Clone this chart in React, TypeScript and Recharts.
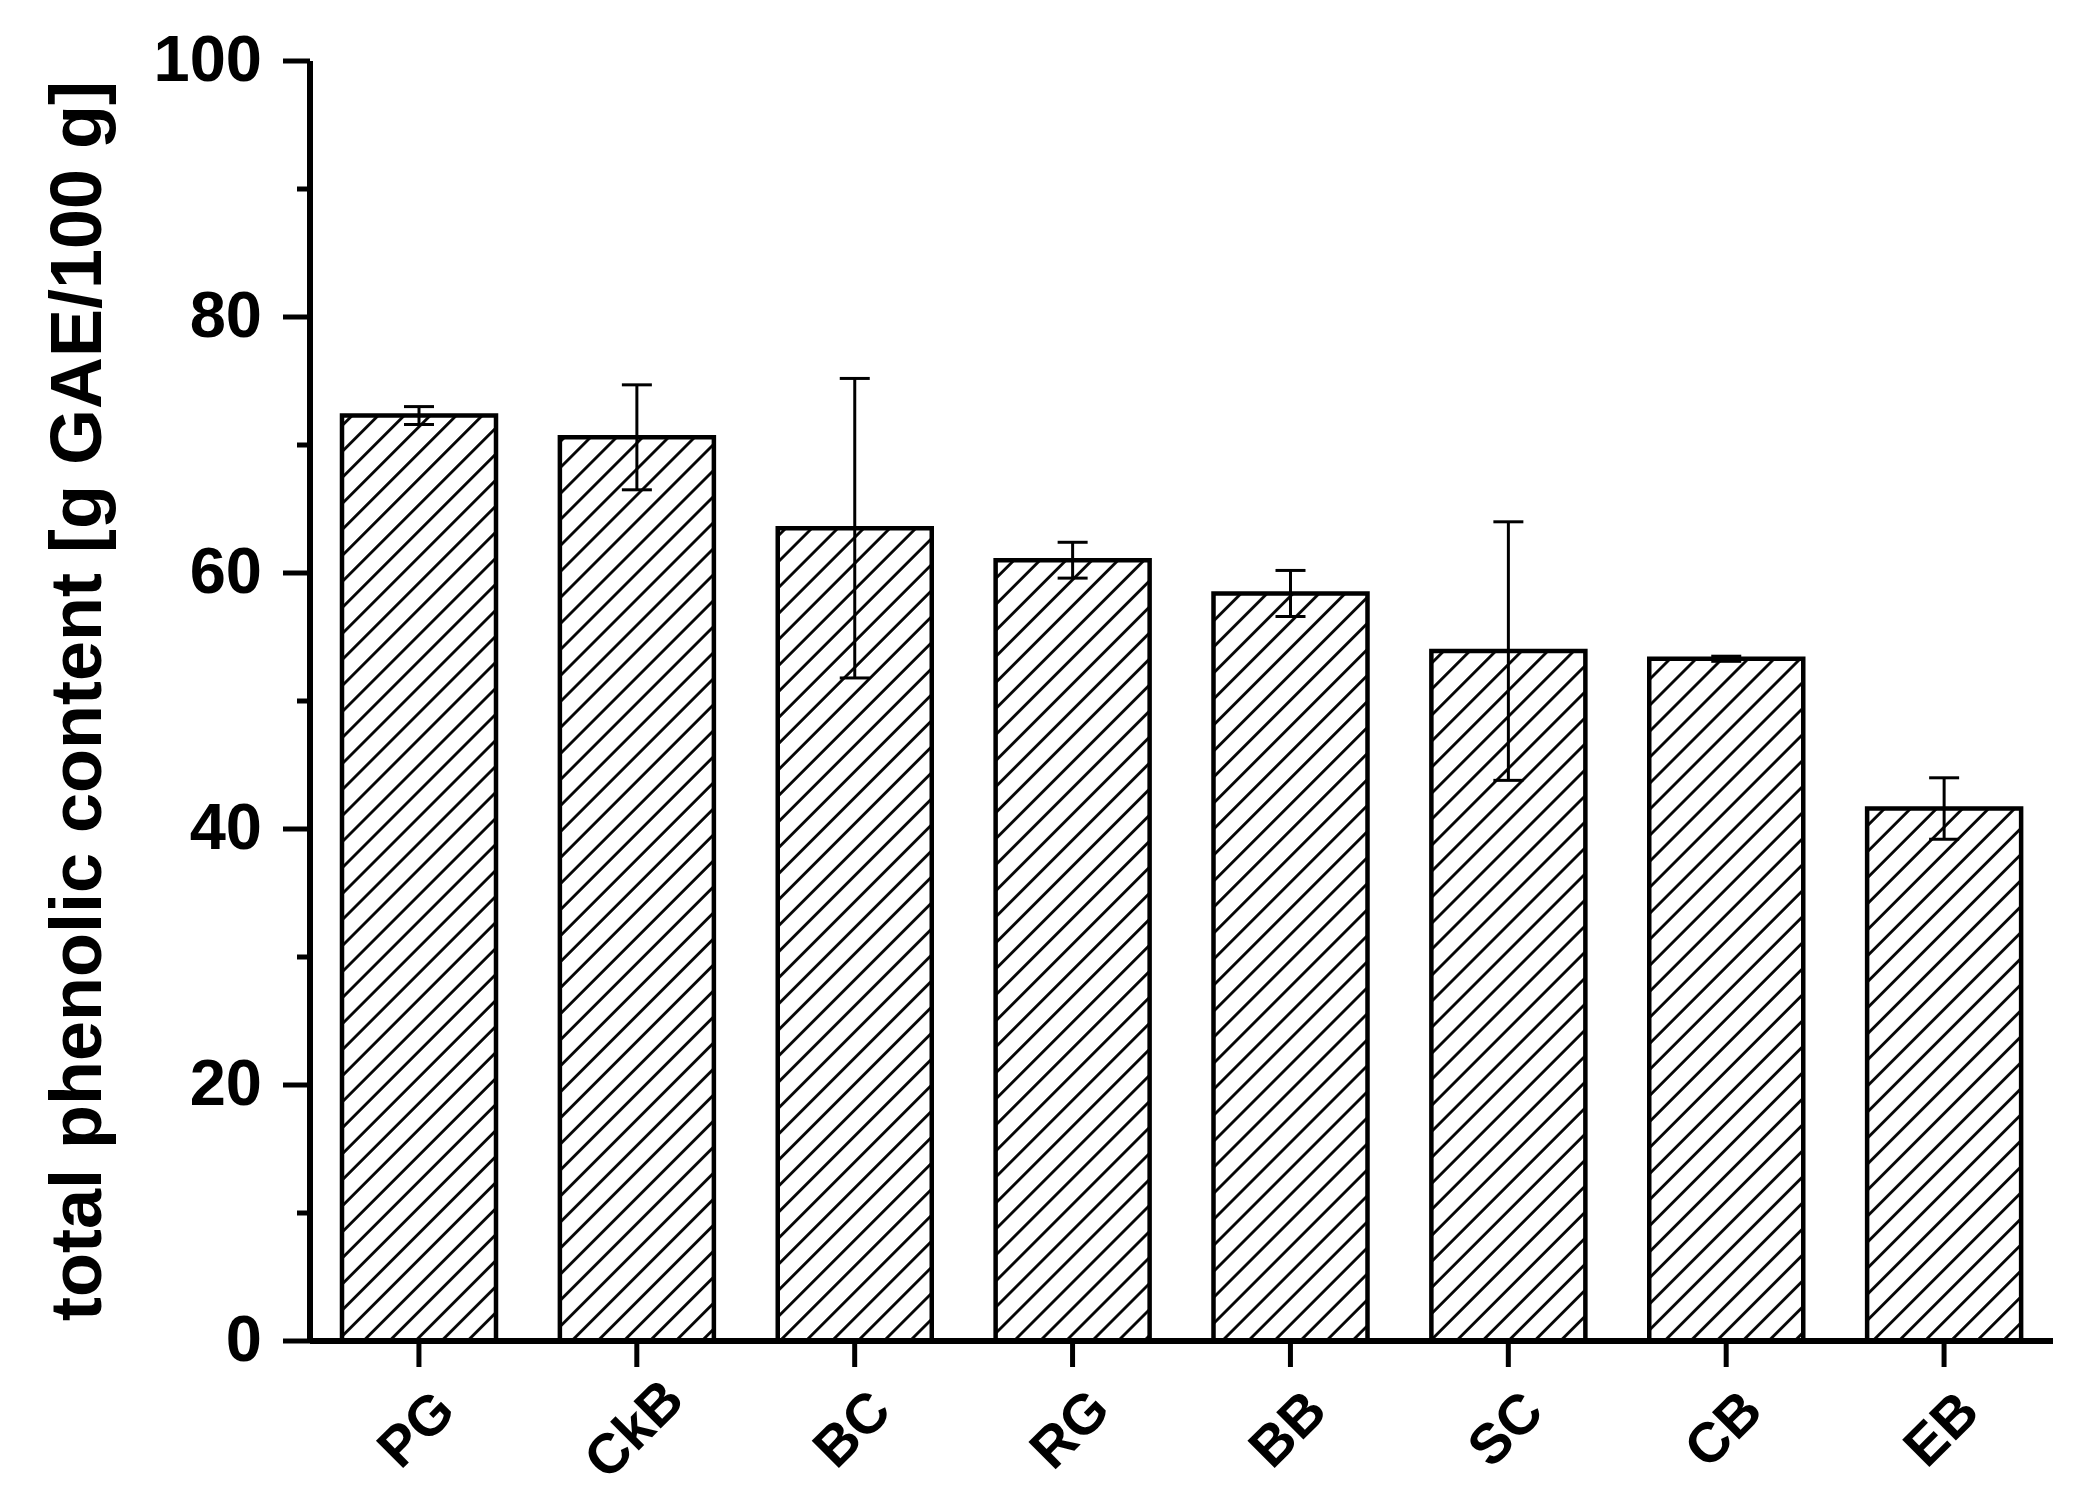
import { Bar, BarChart, ErrorBar, XAxis, YAxis } from "recharts";

const categories = ["PG", "CkB", "BC", "RG", "BB", "SC", "CB", "EB"];
const phenolic = [72.3, 70.6, 63.5, 61.0, 58.4, 53.9, 53.3, 41.6];
const phenolicSd = [0.7, 4.1, 11.7, 1.4, 1.8, 10.1, 0.2, 2.4];
const yTicks = [0, 10, 20, 30, 40, 50, 60, 70, 80, 90, 100];

const data = categories.map((name, i) => ({
  name,
  value: phenolic[i],
  sd: phenolicSd[i],
}));

const FONT = "'Liberation Sans', Arial, sans-serif";

function YTick(props: any) {
  const { x, y, payload } = props;
  const major = payload.value % 20 === 0;
  const axisX = x + 48;
  return (
    <g>
      <line
        x1={axisX - (major ? 27 : 13)}
        x2={axisX}
        y1={y}
        y2={y}
        stroke="#000"
        strokeWidth={5}
      />
      {major && (
        <text
          x={x}
          y={y}
          dy="0.3em"
          textAnchor="end"
          fontFamily={FONT}
          fontWeight="bold"
          fontSize={65}
          fill="#000"
        >
          {payload.value}
        </text>
      )}
    </g>
  );
}

function XTick(props: any) {
  const { x, y, payload } = props;
  const cy = y + 61;
  return (
    <text
      x={x - 4}
      y={cy}
      dy="0.36em"
      textAnchor="middle"
      transform={`rotate(-45, ${x - 4}, ${cy})`}
      fontFamily={FONT}
      fontWeight="bold"
      fontSize={56}
      fill="#000"
    >
      {payload.value}
    </text>
  );
}

function YLabel(props: any) {
  const vb = props.viewBox || { x: 0, y: 61, width: 310, height: 1280 };
  const cx = vb.x + 101;
  const cy = vb.y + vb.height / 2;
  return (
    <text
      x={cx}
      y={cy}
      textAnchor="middle"
      transform={`rotate(-90, ${cx}, ${cy})`}
      fontFamily={FONT}
      fontWeight="bold"
      fontSize={72}
      fill="#000"
    >
      total phenolic content [g GAE/100 g]
    </text>
  );
}

export default function App() {
  return (
    <div style={{ position: "absolute", left: 0, top: 0, background: "#fff" }}>
      <BarChart
        width={2089}
        height={1511}
        data={data}
        margin={{ top: 61, right: 36, bottom: 0, left: 0 }}
        barSize={154}
      >
        <defs>
          <pattern
            id="hatch"
            patternUnits="userSpaceOnUse"
            width={18.4}
            height={18.4}
            patternTransform="rotate(45)"
          >
            <rect width={18.4} height={18.4} fill="#fff" />
            <line x1={9.2} y1={0} x2={9.2} y2={18.4} stroke="#000" strokeWidth={2.8} />
          </pattern>
        </defs>
        <XAxis
          dataKey="name"
          interval={0}
          height={170}
          tickSize={26}
          tickMargin={0}
          axisLine={{ stroke: "#000", strokeWidth: 6 }}
          tickLine={{ stroke: "#000", strokeWidth: 5 }}
          tick={<XTick />}
        />
        <YAxis
          domain={[0, 100]}
          ticks={yTicks}
          interval={0}
          width={310}
          tickSize={26}
          tickMargin={22}
          tickLine={false}
          axisLine={{ stroke: "#000", strokeWidth: 6 }}
          tick={<YTick />}
          label={<YLabel />}
        />
        <Bar
          dataKey="value"
          fill="url(#hatch)"
          stroke="#000"
          strokeWidth={4.5}
          isAnimationActive={false}
        >
          <ErrorBar
            dataKey="sd"
            direction="y"
            width={15}
            stroke="#000"
            strokeWidth={3}
            isAnimationActive={false}
          />
        </Bar>
      </BarChart>
    </div>
  );
}
